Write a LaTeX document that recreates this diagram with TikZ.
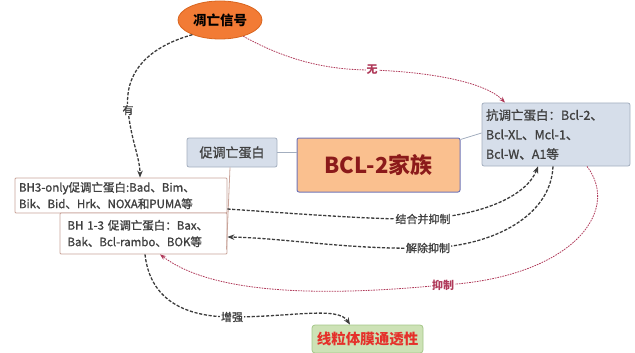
\documentclass[tikz,border=0pt]{standalone}
\usepackage{fontspec}
\setmainfont{Noto Sans CJK SC}
\newfontfamily\medfont[FakeBold=1.2]{Noto Sans CJK SC}
\usetikzlibrary{shapes.geometric,arrows.meta}
\definecolor{sigfill}{HTML}{F27B35}
\definecolor{sigdraw}{HTML}{D9651F}
\definecolor{bluefill}{HTML}{D6DEEA}
\definecolor{bluedraw}{HTML}{A3AEBF}
\definecolor{bclfill}{HTML}{FAC08F}
\definecolor{bcldraw}{HTML}{7076B8}
\definecolor{bcltext}{HTML}{8B1A1A}
\definecolor{bhdraw}{HTML}{C9A49A}
\definecolor{greenfill}{HTML}{CDE2B6}
\definecolor{greendraw}{HTML}{A4C688}
\definecolor{greentext}{HTML}{E5302A}
\definecolor{darkline}{HTML}{3C3C3C}
\definecolor{redline}{HTML}{B03A5A}
\definecolor{txtgray}{HTML}{404040}
\tikzset{
  bluebox/.style={draw=bluedraw, fill=bluefill, rounded corners=2pt, line width=0.8pt, text=txtgray, inner sep=0pt},
  bhbox/.style={draw=bhdraw, fill=white, rounded corners=1pt, line width=0.8pt, text=txtgray, inner sep=0pt, font=\medfont\fontsize{11.5}{16.5}\selectfont, align=left},
  darkarrow/.style={draw=darkline, line width=1.3pt, dash pattern=on 3.2pt off 1.6pt, -{Stealth[length=7pt,width=5.5pt]}},
  redarrow/.style={draw=redline, line width=0.8pt, dash pattern=on 1.6pt off 1pt, -{Stealth[length=6pt,width=4.5pt]}},
  darklabel/.style={fill=white, inner sep=1pt, text=txtgray, font=\medfont\fontsize{11}{11}\selectfont},
  redlabel/.style={fill=white, inner sep=1pt, text=redline, font=\fontsize{11}{11}\selectfont\bfseries},
  treeline/.style={line width=0.8pt}
}
\begin{document}
\begin{tikzpicture}[x=1pt,y=-1pt]
\useasboundingbox (0,0) rectangle (635,353);
% nodes
\node[ellipse, draw=sigdraw, fill=sigfill, line width=0.8pt, minimum width=84pt, minimum height=38pt, inner sep=0pt, font=\fontsize{13.5}{14}\selectfont\bfseries] (sig) at (220,20) {凋亡信号};
\node[bluebox, minimum width=90pt, minimum height=29pt, font=\medfont\fontsize{13}{14}\selectfont] (pro) at (232,152.5) {促调亡蛋白};
\node[draw=bcldraw, fill=bclfill, rounded corners=2pt, line width=1pt, minimum width=163pt, minimum height=54pt, inner sep=0pt, text=bcltext, font=\fontsize{22}{24}\selectfont\bfseries] (bcl) at (378.5,165) {BCL-2家族};
\node[bluebox, minimum width=148pt, minimum height=63pt, text width=140pt, align=left, font=\medfont\fontsize{12.5}{19.5}\selectfont] (anti) at (556,134.5) {抗调亡蛋白：Bcl-2、\\Bcl-XL、Mcl-1、\\Bcl-W、A1等};
\node[bhbox, minimum width=212pt, minimum height=35pt, text width=204pt] (bh3) at (121,195.5) {BH3-only促调亡蛋白:Bad、Bim、\\Bik、Bid、Hrk、NOXA和PUMA等};
\node[bhbox, minimum width=167pt, minimum height=41pt, text width=152pt] (bh13) at (143.5,233.5) {BH 1-3 促调亡蛋白：Bax、\\Bak、Bcl-rambo、BOK等};
\node[draw=greendraw, fill=greenfill, rounded corners=3pt, line width=0.8pt, minimum width=111pt, minimum height=28pt, inner sep=0pt, text=greentext, font=\fontsize{14.5}{15}\selectfont\bfseries] (mito) at (367.5,339) {线粒体膜通透性};
% tree lines
\draw[treeline, draw=bluedraw] (pro.east) -- (bcl.west |- pro.east);
\draw[treeline, draw=bluedraw] ([yshift=-2pt]bcl.north east) -- ([yshift=1.5pt]anti.west);
\draw[treeline, draw=bhdraw] ([xshift=-2pt]pro.south) -- ([xshift=83pt,yshift=-16pt]bh13.center);
% label positions
\coordinate (lyou) at (128,110);
\coordinate (lwu) at (372,70);
\coordinate (ljh) at (423,219);
\coordinate (ljc) at (428,248);
\coordinate (lyz) at (443,285);
\coordinate (lzq) at (232,317);
% connectors
\draw[darkarrow] (sig.208) .. controls (145,48) and (124,75) .. (lyou) .. controls (131,140) and (140,158) .. ([xshift=19pt]bh3.north);
\draw[redarrow] (sig.-35) .. controls (290,62) and (330,70) .. (lwu) .. controls (430,72) and (485,82) .. ([xshift=-51pt]anti.north);
\draw[darkarrow] ([yshift=-13.5pt]bh3.east) .. controls (300,214) and (380,220) .. (ljh) .. controls (485,215) and (527,195) .. ([xshift=-18pt]anti.south);
\draw[darkarrow] ([xshift=-3pt]anti.south) .. controls (551,215) and (495,246) .. (ljc) .. controls (350,250) and (285,238) .. ([yshift=-3.5pt]bh13.east);
\draw[redarrow] ([xshift=31pt]anti.south) .. controls (622,212) and (570,278) .. (lyz) .. controls (330,296) and (215,296) .. ([xshift=16.5pt]bh13.south);
\draw[darkarrow] ([xshift=1.5pt]bh13.south) .. controls (150,300) and (185,317) .. (lzq) .. controls (292,317) and (338,306) .. ([xshift=-17.5pt]mito.north);
% labels
\node[darklabel] (tyou) at (lyou) {有};
\node[redlabel] (twu) at (lwu) {无};
\node[darklabel] (tjh) at (ljh) {结合并抑制};
\node[darklabel] (tjc) at (ljc) {解除抑制};
\node[redlabel] (tyz) at (lyz) {抑制};
\node[darklabel] (tzq) at (lzq) {增强};
\end{tikzpicture}
\end{document}
